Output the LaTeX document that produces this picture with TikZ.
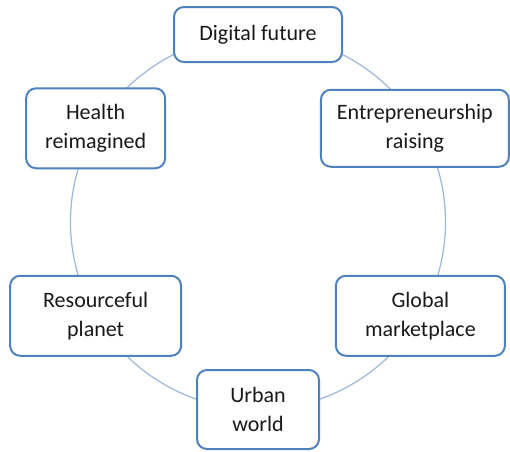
\documentclass[tikz,border=0pt]{standalone}
\usepackage{fontspec}
\setmainfont{Carlito}

\definecolor{boxblue}{HTML}{4F81BD}
\definecolor{ringblue}{HTML}{9DB7D8}

\tikzset{
  topic/.style={draw=boxblue, line width=2pt, rounded corners=10pt, fill=white,
    align=center, text=black!90, inner sep=0pt,
    font=\fontsize{22}{29}\selectfont, minimum height=80pt},
  ring/.style={draw=ringblue, line width=1.2pt}
}

\begin{document}
\begin{tikzpicture}
   \useasboundingbox (-258pt,-229pt) rectangle (252pt,222pt);

   % the cycle behind the topics
   \draw[ring] (0,0) circle (187.5pt);

   \node[topic, minimum width=168pt, minimum height=55pt] (digital) at (90:187.5pt) {Digital future};
   \node[topic, minimum width=188pt, minimum height=77pt, xshift=-5.5pt] (entre) at (30:187.5pt) {Entrepreneurship\\raising};
   \node[topic, minimum width=169pt] (global) at (-30:187.5pt) {Global\\marketplace};
   \node[topic, minimum width=122pt, minimum height=79pt] (urban) at (-90:187.5pt) {Urban\\world};
   \node[topic, minimum width=171pt] (resource) at (210:187.5pt) {Resourceful\\planet};
   \node[topic, minimum width=139pt] (health) at (150:187.5pt) {Health\\reimagined};

\end{tikzpicture}
\end{document}
